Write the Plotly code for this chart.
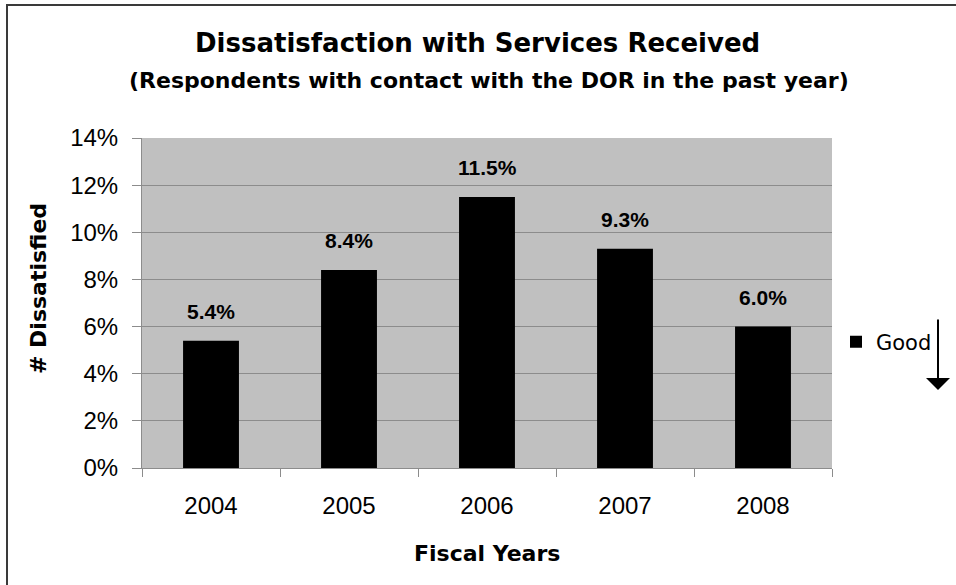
import plotly.graph_objects as go

years = ["2004", "2005", "2006", "2007", "2008"]
dissatisfied = [5.4, 8.4, 11.5, 9.3, 6.0]
y_ticks = [0, 2, 4, 6, 8, 10, 12, 14]
y_tick_labels = [f"{v}%" for v in y_ticks]
data_labels = [f"{v:.1f}%" for v in dissatisfied]

W, H = 956, 585
L, R, T, B = 142, 124, 138, 117
pw, ph = W - L - R, H - T - B

def px_x(x):
    return (x - L) / pw

def px_y(y):
    return (H - B - y) / ph

BOLD = "DejaVu Sans"

fig = go.Figure()
fig.add_trace(go.Bar(
    x=years, y=dissatisfied, name="Good",
    marker=dict(color="#000000", line=dict(width=0)),
    showlegend=True,
))

annotations = []
for i, (v, lab) in enumerate(zip(dissatisfied, data_labels)):
    annotations.append(dict(
        x=i, y=v, xref="x", yref="y", text=f"<b>{lab}</b>",
        showarrow=False, yanchor="bottom", yshift=16,
        font=dict(family="Arial", size=21, color="#000000"),
    ))

annotations += [
    dict(x=px_x(477), y=px_y(43), xref="paper", yref="paper",
         text="<b>Dissatisfaction with Services Received</b>", showarrow=False,
         font=dict(family=BOLD, size=26, color="#000000"), xanchor="center", yanchor="middle"),
    dict(x=px_x(489), y=px_y(80), xref="paper", yref="paper",
         text="<b>(Respondents with contact with the DOR in the past year)</b>", showarrow=False,
         font=dict(family=BOLD, size=22, color="#000000"), xanchor="center", yanchor="middle"),
    dict(x=px_x(38), y=px_y(289), xref="paper", yref="paper",
         text="<b># Dissatisfied</b>", showarrow=False, textangle=-90,
         font=dict(family=BOLD, size=22, color="#000000"), xanchor="center", yanchor="middle"),
    dict(x=px_x(487), y=px_y(553), xref="paper", yref="paper",
         text="<b>Fiscal Years</b>", showarrow=False,
         font=dict(family=BOLD, size=22, color="#000000"), xanchor="center", yanchor="middle"),
    dict(x=px_x(938), y=px_y(390), xref="paper", yref="paper", text="",
         showarrow=True, ax=0, ay=-72, arrowhead=1, arrowsize=2, arrowwidth=2,
         arrowcolor="#000000"),
]

fig.update_layout(
    width=W, height=H,
    margin=dict(l=L, r=R, t=T, b=B, pad=0),
    paper_bgcolor="#FFFFFF",
    plot_bgcolor="#C0C0C0",
    bargap=0.595,
    font=dict(family="Arial", color="#000000"),
    showlegend=True,
    legend=dict(x=px_x(836), y=px_y(342), xanchor="left", yanchor="middle",
                font=dict(family="DejaVu Sans", size=21, color="#000000"),
                bgcolor="rgba(0,0,0,0)", borderwidth=0, itemwidth=30),
    annotations=annotations,
    shapes=[dict(type="rect", xref="paper", yref="paper",
                 x0=px_x(7), x1=px_x(975), y0=px_y(600), y1=px_y(5),
                 line=dict(color="#3a3a3a", width=2), fillcolor="rgba(0,0,0,0)", layer="above")],
)

fig.update_xaxes(
    type="category", range=[-0.5, 4.5], showgrid=False, showline=True,
    linecolor="#8c8c8c", linewidth=1,
    ticks="outside", tickson="boundaries", ticklen=8, tickcolor="#8c8c8c",
    tickfont=dict(family="Arial", size=24, color="#000000"), ticklabelstandoff=16,
    tickangle=0,
)
fig.update_yaxes(
    range=[0, 14], tickvals=y_ticks, ticktext=y_tick_labels,
    showgrid=True, gridcolor="#8c8c8c", gridwidth=1,
    showline=True, linecolor="#8c8c8c", linewidth=1,
    ticks="outside", ticklen=9, tickcolor="#8c8c8c",
    tickfont=dict(family="Arial", size=24, color="#000000"), ticklabelstandoff=9,
    zeroline=False,
)

fig.write_html("out.html", config={"displayModeBar": False},
               post_script="document.body.style.margin='0';")
